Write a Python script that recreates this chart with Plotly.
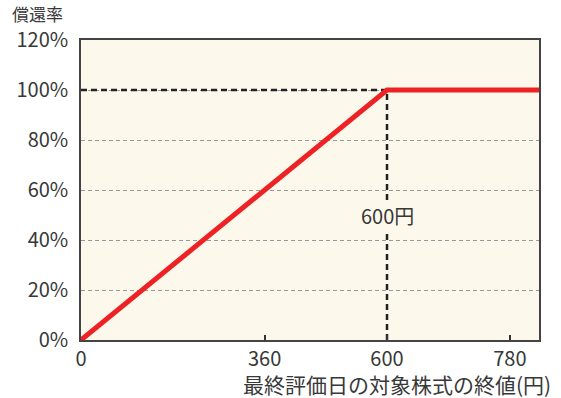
import plotly.graph_objects as go

# data
price = [0, 600, 900]
rate = [0, 100, 100]
x_tick_vals = [0, 360, 600, 841]
x_tick_text = ["0", "360", "600", "780"]
y_tick_vals = [0, 20, 40, 60, 80, 100, 120]
y_tick_text = ["0%", "20%", "40%", "60%", "80%", "100%", "120%"]
knee_x = 600
knee_y = 100

FONT = "Noto Sans CJK JP"
TXT = "#383838"
fig = go.Figure()

# black dashed guide lines
fig.add_trace(go.Scatter(x=[0, knee_x], y=[knee_y, knee_y], mode="lines",
                         line=dict(color="#222222", width=2.5, dash="6px,4px"),
                         hoverinfo="skip", showlegend=False))
fig.add_trace(go.Scatter(x=[knee_x, knee_x], y=[0, knee_y], mode="lines",
                         line=dict(color="#222222", width=2.5, dash="6px,4px"),
                         hoverinfo="skip", showlegend=False))
# payoff line
fig.add_trace(go.Scatter(x=price, y=rate, mode="lines",
                         line=dict(color="#EE2224", width=5),
                         showlegend=False))

fig.add_annotation(x=knee_x, y=50, text="600円", showarrow=False,
                   font=dict(family=FONT, size=20, color=TXT),
                   bgcolor="#FCF8EC", borderpad=0,
                   xanchor="center", yanchor="middle")

fig.update_layout(
    width=561, height=398,
    margin=dict(l=81, r=22, t=40, b=58),
    paper_bgcolor="white", plot_bgcolor="#FCF8EC",
    font=dict(family=FONT, size=20, color=TXT),
    xaxis=dict(range=[0, 898], tickvals=x_tick_vals, ticktext=x_tick_text,
               ticks="inside", ticklen=5, tickcolor="#333333", tickwidth=1.5,
               showgrid=False, zeroline=False, showline=True, mirror=True,
               linecolor="#444444", linewidth=1.5, ticklabelstandoff=0,
               tickfont=dict(family=FONT, size=20, color=TXT)),
    yaxis=dict(range=[0, 120], tickvals=y_tick_vals, ticktext=y_tick_text,
               ticks="", showgrid=True, gridcolor="#999999", griddash="4px,3px",
               gridwidth=1, zeroline=False, showline=True, mirror=True,
               linecolor="#444444", linewidth=1.5, ticklabelstandoff=7,
               tickfont=dict(family=FONT, size=20, color=TXT)),
)

fig.add_annotation(xref="paper", yref="paper", x=-0.155, y=1.0, yshift=12,
                   text="償還率", showarrow=False, xanchor="left", yanchor="bottom",
                   font=dict(family=FONT, size=17, color=TXT))
fig.add_annotation(xref="paper", yref="paper", x=1.03, y=0, yshift=-44,
                   text="最終評価日の対象株式の終値(円)", showarrow=False,
                   xanchor="right", yanchor="middle",
                   font=dict(family=FONT, size=21, color=TXT))

fig.write_html("out.html")
